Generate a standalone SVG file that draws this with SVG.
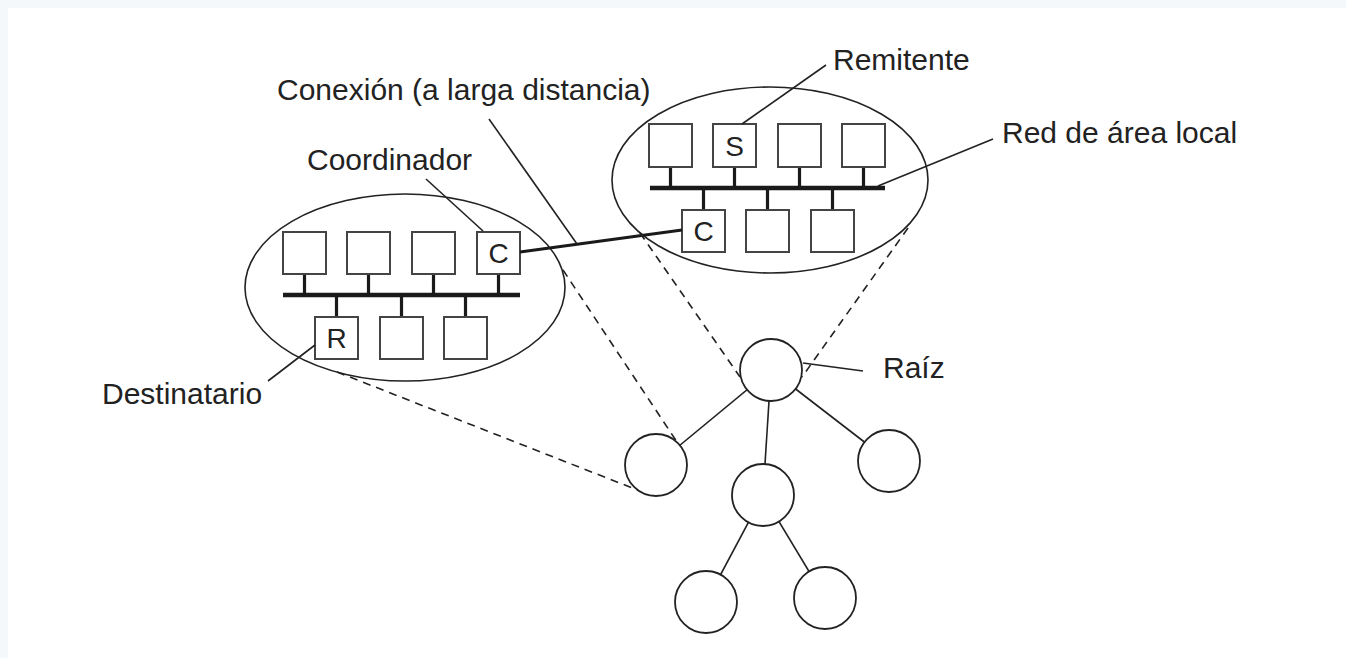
<svg xmlns="http://www.w3.org/2000/svg" width="1346" height="658" viewBox="0 0 1346 658">
<style>
.lbl{font-family:"Liberation Sans",Arial,Helvetica,sans-serif;font-size:30px;fill:#222}
.let{font-family:"Liberation Sans",Arial,Helvetica,sans-serif;font-size:28px;fill:#222;text-anchor:middle}
.box{fill:#fff;stroke:#444;stroke-width:2}
.ell{fill:none;stroke:#222;stroke-width:1.6}
.bus{stroke:#1a1a1a;stroke-width:4.5}
.stub{stroke:#1a1a1a;stroke-width:3.2}
.lead{stroke:#222;stroke-width:1.6;fill:none}
.dash{stroke:#222;stroke-width:1.6;stroke-dasharray:8 6;fill:none}
.edge{stroke:#222;stroke-width:1.6}
.circ{fill:#fff;stroke:#222;stroke-width:1.8}
.thick{stroke:#1a1a1a;stroke-width:3.2}
</style>
<rect x="0" y="0" width="1346" height="658" fill="#f4f8fb"/>
<rect x="8" y="8" width="1338" height="650" fill="#fff"/>

<g id="lan-left">
<ellipse class="ell" cx="405" cy="287.5" rx="160" ry="93.5"/>
<line class="bus" x1="283" y1="295" x2="520" y2="295"/>
<line class="stub" x1="304.5" y1="274" x2="304.5" y2="295"/>
<line class="stub" x1="368.5" y1="274" x2="368.5" y2="295"/>
<line class="stub" x1="433.5" y1="274" x2="433.5" y2="295"/>
<line class="stub" x1="498.5" y1="274" x2="498.5" y2="295"/>
<line class="stub" x1="336.5" y1="295" x2="336.5" y2="317"/>
<line class="stub" x1="401.5" y1="295" x2="401.5" y2="317"/>
<line class="stub" x1="465.5" y1="295" x2="465.5" y2="317"/>
<rect class="box" x="283" y="232" width="43" height="42"/>
<rect class="box" x="347" y="232" width="43" height="42"/>
<rect class="box" x="412" y="232" width="43" height="42"/>
<rect class="box" x="477" y="232" width="43" height="42"/>
<text class="let" x="498.5" y="263">C</text>
<rect class="box" x="315" y="317" width="43" height="42"/>
<rect class="box" x="380" y="317" width="43" height="42"/>
<rect class="box" x="444" y="317" width="43" height="42"/>
<text class="let" x="336.5" y="348">R</text>
</g>

<g id="lan-right">
<ellipse class="ell" cx="770" cy="180" rx="158" ry="93"/>
<line class="bus" x1="650" y1="188" x2="885" y2="188"/>
<line class="stub" x1="670.5" y1="167" x2="670.5" y2="188"/>
<line class="stub" x1="734.5" y1="167" x2="734.5" y2="188"/>
<line class="stub" x1="799.5" y1="167" x2="799.5" y2="188"/>
<line class="stub" x1="863.5" y1="167" x2="863.5" y2="188"/>
<line class="stub" x1="703.5" y1="188" x2="703.5" y2="210"/>
<line class="stub" x1="767.5" y1="188" x2="767.5" y2="210"/>
<line class="stub" x1="832.5" y1="188" x2="832.5" y2="210"/>
<rect class="box" x="649" y="124" width="43" height="43"/>
<rect class="box" x="713" y="124" width="43" height="43"/>
<rect class="box" x="778" y="124" width="43" height="43"/>
<rect class="box" x="842" y="124" width="43" height="43"/>
<text class="let" x="734.5" y="156">S</text>
<rect class="box" x="682" y="210" width="43" height="42"/>
<rect class="box" x="746" y="210" width="43" height="42"/>
<rect class="box" x="811" y="210" width="43" height="42"/>
<text class="let" x="703.5" y="241">C</text>
</g>

<g id="connectors">
<line class="thick" x1="520" y1="252" x2="682" y2="230"/>
<line class="dash" x1="563" y1="270" x2="677" y2="442"/>
<line class="dash" x1="337" y1="372" x2="640" y2="491"/>
<line class="dash" x1="640" y1="233" x2="740" y2="377"/>
<line class="dash" x1="908" y1="228" x2="802" y2="377"/>
<line class="edge" x1="771" y1="370" x2="656" y2="465"/>
<line class="edge" x1="771" y1="370" x2="763" y2="495"/>
<line class="edge" x1="771" y1="370" x2="889" y2="461"/>
<line class="edge" x1="763" y1="495" x2="706" y2="602"/>
<line class="edge" x1="763" y1="495" x2="825" y2="598"/>
<line class="lead" x1="826" y1="65" x2="742" y2="124"/>
<line class="lead" x1="993" y1="139" x2="878" y2="186"/>
<line class="lead" x1="426" y1="179" x2="483" y2="231"/>
<line class="lead" x1="489" y1="119" x2="577" y2="244"/>
<line class="lead" x1="268" y1="381" x2="315" y2="345"/>
<line class="lead" x1="863" y1="371" x2="803" y2="363"/>
</g>

<g id="tree-root"><circle class="circ" cx="771" cy="370" r="31"/></g>
<g id="tree-left"><circle class="circ" cx="656" cy="465" r="31"/></g>
<g id="tree-middle"><circle class="circ" cx="763" cy="495" r="31"/></g>
<g id="tree-right"><circle class="circ" cx="889" cy="461" r="31"/></g>
<g id="tree-bottom-left"><circle class="circ" cx="706" cy="602" r="31"/></g>
<g id="tree-bottom-right"><circle class="circ" cx="825" cy="598" r="31"/></g>

<g id="labels">
<text class="lbl" x="833" y="70">Remitente</text>
<text class="lbl" x="277" y="100">Conexión (a larga distancia)</text>
<text class="lbl" x="1002" y="143">Red de área local</text>
<text class="lbl" x="307" y="170">Coordinador</text>
<text class="lbl" x="102" y="404">Destinatario</text>
<text class="lbl" x="883" y="378">Raíz</text>
</g>
</svg>
